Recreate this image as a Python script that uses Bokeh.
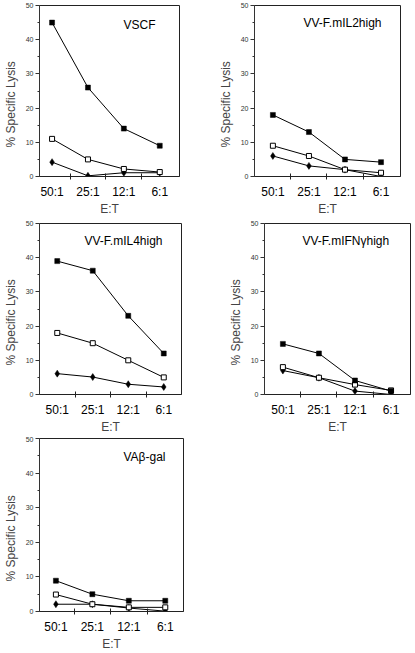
from bokeh.plotting import figure
from bokeh.layouts import column, row
from bokeh.models import Range1d, FixedTicker, Label
from bokeh.embed import file_html
from bokeh.resources import INLINE

ratios = ["50:1", "25:1", "12:1", "6:1"]
xpos = [1, 2, 3, 4]

titles = ["VSCF", "VV-F.mIL2high", "VV-F.mIL4high", "VV-F.mIFNγhigh", "VAβ-gal"]
y_label = "% Specific Lysis"

filled_sq = [
    [45, 26, 14, 9],
    [18, 13, 5, 4.2],
    [39, 36.2, 23, 12],
    [14.8, 12, 4.1, 1],
    [8.9, 5, 3.1, 3.1],
]
open_sq = [
    [11, 5, 2.2, 1.3],
    [9, 6, 2, 1.1],
    [18, 15, 10, 5],
    [8, 4.9, 2.9, 1.2],
    [4.9, 2.1, 1.2, 1.2],
]
diamonds = [
    [4.2, 0.2, 1.1, 1.1],
    [6, 3.1, 2, 0],
    [6.1, 5.1, 3, 2.2],
    [7, 4.9, 1, 0],
    [2.1, 2.1, 1, 0.1],
]

y_ticks = [0, 10, 20, 30, 40, 50]
y_minor = [5, 15, 25, 35, 45]

FONT = "Liberation Sans"
# non-breaking spaces after the label push the visible text slightly below centre
LABEL_PAD = "\u00a0" * 8


def make_panel(i, width_frame, height_frame, left, right, top, bottom, xr,
               title_dx, title_dy):
    p = figure(
        frame_width=width_frame, frame_height=height_frame,
        min_border_left=left, min_border_right=right,
        min_border_top=top, min_border_bottom=bottom,
        x_range=Range1d(*xr), y_range=Range1d(0, 50),
        output_backend="svg", toolbar_location=None,
    )
    p.grid.visible = False
    p.outline_line_color = "#222222"
    p.outline_line_width = 1
    p.background_fill_color = "white"
    p.border_fill_color = "white"

    xa = p.xaxis[0]
    xa.ticker = FixedTicker(ticks=xpos, minor_ticks=[1.5, 2.5, 3.5])
    xa.major_label_overrides = {x: r for x, r in zip(xpos, ratios)}
    xa.major_tick_in = 0
    xa.major_tick_out = 0
    xa.minor_tick_in = 3
    xa.minor_tick_out = 3
    xa.major_label_standoff = 5
    xa.major_label_text_font = FONT
    xa.major_label_text_font_size = "12px"
    xa.major_label_text_color = "black"
    xa.axis_label = "E:T"
    xa.axis_label_standoff = 0
    xa.axis_label_text_font = FONT
    xa.axis_label_text_font_size = "12px"
    xa.axis_label_text_font_style = "normal"
    xa.axis_line_color = "#222222"
    xa.major_tick_line_color = "#222222"
    xa.minor_tick_line_color = "#222222"

    ya = p.yaxis[0]
    ya.ticker = FixedTicker(ticks=y_ticks, minor_ticks=y_minor)
    ya.major_tick_in = 0
    ya.major_tick_out = 4
    ya.minor_tick_in = 0
    ya.minor_tick_out = 2
    ya.major_label_standoff = 2
    ya.major_label_text_font = FONT
    ya.major_label_text_font_size = "7px"
    ya.major_label_text_color = "#333333"
    ya.axis_label = y_label + LABEL_PAD
    ya.axis_label_standoff = 5
    ya.axis_label_text_font = FONT
    ya.axis_label_text_font_size = "12px"
    ya.axis_label_text_font_style = "normal"
    ya.axis_line_color = "#333333"
    ya.major_tick_line_color = "#333333"
    ya.minor_tick_line_color = "#333333"

    lw = 1
    p.line(xpos, filled_sq[i], line_color="black", line_width=lw)
    p.line(xpos, open_sq[i], line_color="black", line_width=lw)
    p.line(xpos, diamonds[i], line_color="black", line_width=lw)
    p.scatter(xpos, diamonds[i], marker="diamond", size=7,
              fill_color="black", line_color="black", line_width=0.5)
    p.scatter(xpos, open_sq[i], marker="square", size=5,
              fill_color="white", line_color="black", line_width=1)
    p.scatter(xpos, filled_sq[i], marker="square", size=5,
              fill_color="black", line_color="black", line_width=0.5)

    p.add_layout(Label(
        x=title_dx, y=title_dy, x_units="screen", y_units="screen",
        text=titles[i], text_font=FONT, text_font_size="12px",
        text_color="black", text_baseline="middle", text_align="left",
    ))
    return p


p1 = make_panel(0, 140, 171, 35, 25, 5, 36, (0.65, 4.55), 84, 152)
p2 = make_panel(1, 146, 171, 50, 3, 5, 36, (0.49, 4.54), 49, 154)
p3 = make_panel(2, 142, 171, 31, 33, 5, 36, (0.5, 4.5), 45, 154)
p4 = make_panel(3, 146, 171, 50, 3, 5, 36, (0.49, 4.54), 38, 154)
p5 = make_panel(4, 144, 173, 30, 33, 2, 33, (0.55, 4.5), 84, 155)

layout = column(row(p1, p2), row(p3, p4), row(p5))

open("out.html", "w").write(file_html(layout, INLINE))
